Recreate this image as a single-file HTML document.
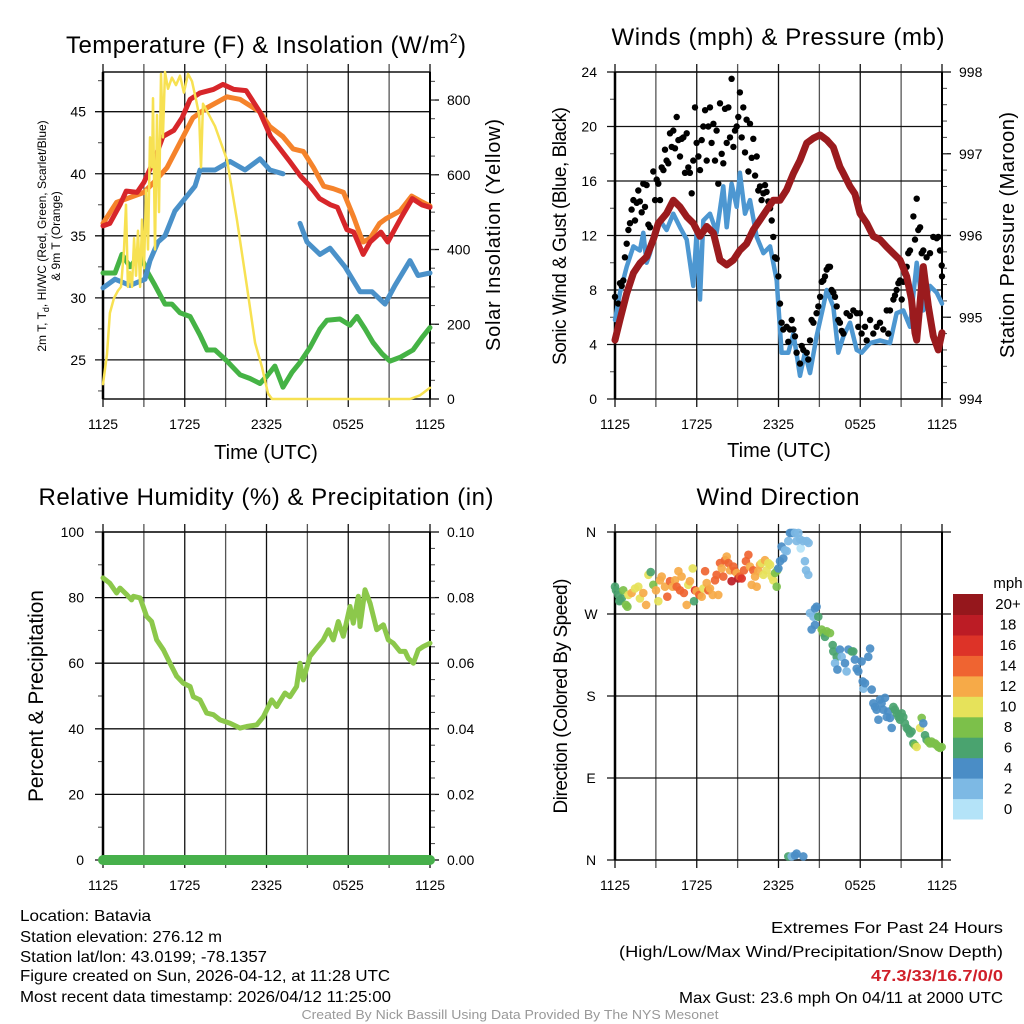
<!DOCTYPE html>
<html><head><meta charset="utf-8"><title>NYS Mesonet Batavia Meteogram</title>
<style>
html,body{margin:0;padding:0;background:#fff;}
svg{display:block;font-family:"Liberation Sans",Arial,sans-serif;}
</style></head>
<body>
<svg id="chart" xmlns="http://www.w3.org/2000/svg" width="1024" height="1024" viewBox="0 0 1024 1024">
<rect x="0" y="0" width="1024" height="1024" fill="#fff"/>
<text x="266" y="53" font-size="24" text-anchor="middle" textLength="400">Temperature (F) &amp; Insolation (W/m<tspan font-size="14" dy="-10">2</tspan><tspan dy="10">)</tspan></text>
<text x="778" y="45" font-size="24" text-anchor="middle" textLength="333">Winds (mph) &amp; Pressure (mb)</text>
<text x="266" y="505" font-size="24" text-anchor="middle" textLength="455">Relative Humidity (%) &amp; Precipitation (in)</text>
<text x="778" y="505" font-size="24" text-anchor="middle" textLength="163">Wind Direction</text>

<text x="266" y="459" font-size="20" text-anchor="middle">Time (UTC)</text>
<text x="779" y="457" font-size="20" text-anchor="middle">Time (UTC)</text>

<text transform="translate(46,236) rotate(-90)" font-size="12" text-anchor="middle">2m T, T<tspan font-size="9" dy="3">d</tspan><tspan dy="-3">, HI/WC (Red, Green, Scarlet/Blue)</tspan></text>
<text transform="translate(60,236) rotate(-90)" font-size="12" text-anchor="middle">&amp; 9m T (Orange)</text>
<text transform="translate(500,235) rotate(-90)" font-size="20" text-anchor="middle" textLength="232">Solar Insolation (Yellow)</text>
<text transform="translate(566,236) rotate(-90)" font-size="19" text-anchor="middle" textLength="258">Sonic Wind &amp; Gust (Blue, Black)</text>
<text transform="translate(1014,235) rotate(-90)" font-size="20" text-anchor="middle" textLength="246">Station Pressure (Maroon)</text>
<text transform="translate(43,696) rotate(-90)" font-size="21" text-anchor="middle" textLength="212">Percent &amp; Precipitation</text>
<text transform="translate(567,696) rotate(-90)" font-size="19" text-anchor="middle" textLength="235">Direction (Colored By Speed)</text>

<g font-size="16">
<text x="20" y="921" textLength="131" lengthAdjust="spacingAndGlyphs">Location: Batavia</text>
<text x="20" y="942" textLength="202" lengthAdjust="spacingAndGlyphs">Station elevation: 276.12 m</text>
<text x="20" y="962" textLength="247" lengthAdjust="spacingAndGlyphs">Station lat/lon: 43.0199; -78.1357</text>
<text x="20" y="981" textLength="370" lengthAdjust="spacingAndGlyphs">Figure created on Sun, 2026-04-12, at 11:28 UTC</text>
<text x="20" y="1002" textLength="371" lengthAdjust="spacingAndGlyphs">Most recent data timestamp: 2026/04/12 11:25:00</text>
</g>
<g font-size="16" text-anchor="end">
<text x="1003" y="933" textLength="232" lengthAdjust="spacingAndGlyphs">Extremes For Past 24 Hours</text>
<text x="1003" y="957" textLength="384" lengthAdjust="spacingAndGlyphs">(High/Low/Max Wind/Precipitation/Snow Depth)</text>
<text x="1003" y="981" textLength="132" lengthAdjust="spacingAndGlyphs" font-weight="bold" fill="#d0202a">47.3/33/16.7/0/0</text>
<text x="1003" y="1003" textLength="324" lengthAdjust="spacingAndGlyphs">Max Gust: 23.6 mph On 04/11 at 2000 UTC</text>
</g>
<text x="510" y="1019" font-size="13" fill="#999" text-anchor="middle" textLength="417" lengthAdjust="spacingAndGlyphs">Created By Nick Bassill Using Data Provided By The NYS Mesonet</text>
</svg>
<script>
// ---------- data (time in hours since 1125 UTC) ----------
const redT=[0,.5,1.25,1.7,2.5,3,3.5,3.9,4.4,5.2,5.8,6.4,7.1,8.1,8.8,9.6,10.5,11.5,12.3,13,13.7,14.5,15.2,15.9,16.7,17.2,17.9,18.4,19.1,19.6,20.4,20.9,21.4,21.9,22.7,23.4,24];
const redV=[35.8,36,37.5,38.6,38.5,39.3,40.5,41.5,43,43.5,44.5,46,46.5,46.8,47.2,46.8,46.7,45,43,42,41,39.8,39,38,37.5,37.3,35.5,35.3,33.5,34.5,35.3,34.5,35.5,36.5,38,37.5,37.3];
const orangeT=[0,1,3,3.9,4.7,5.65,6.6,7.6,9.1,10.05,11.5,12.25,13.2,13.95,14.7,15.45,16.2,16.9,17.65,18.4,18.9,19.1,19.6,20.3,20.8,21.8,22.65,23.3,24];
const orangeV=[36,37.7,38.5,39.5,40.5,42.5,44.5,45.3,46.2,46,45,43.8,43,42,41.8,40.5,39,38.8,38.5,36.5,35,34.5,34.8,36,36.4,37,38.2,37.8,37.4];
const blueT=[0,.88,1.98,3.08,3.45,4.04,4.55,5.28,6.02,6.75,7.12,8.22,9.32,10.42,11.52,12.26,13.21,13.8,14.46,14.97,15.93,16.66,17.76,18.86,19.74,20.7,21.43,22.53,23.12,24];
const blueV=[30.8,31.5,31,31.5,33,34.5,35,37,38,39,40.3,40.3,41,40.3,41.2,40.3,40,null,36,34.5,33.5,34,32.5,30.5,30.5,29.5,31,33,31.8,32];
const greenT=[0,.88,1.39,1.98,2.72,3.3,3.82,4.55,5.06,5.65,6.39,7.12,7.63,8.22,9.1,10.06,10.79,11.52,12.04,12.62,13.21,13.87,14.46,15.19,15.93,16.44,17.39,18.13,18.64,19.23,19.82,20.48,21.06,21.8,22.75,23.41,24];
const greenV=[32,32,33.5,32.5,33.5,32,31,29.5,29.5,28.8,28.5,27,25.8,25.8,24.9,23.8,23.5,23.1,23.7,24.5,22.8,24,24.8,26,27.5,28.2,28.3,27.8,28.5,27.5,26.4,25.5,24.9,25.2,25.8,26.8,27.6];
const solarT=[0,.29,.51,.81,1.1,1.32,1.54,1.69,1.83,1.98,2.13,2.28,2.42,2.57,2.72,2.86,3.01,3.16,3.3,3.45,3.6,3.67,3.82,3.96,4.11,4.26,4.4,4.55,4.77,5.06,5.36,5.65,5.94,6.24,6.53,6.83,7.05,7.19,7.34,7.63,8.22,9.1,9.83,10.57,11.16,11.67,12.11,12.4,22.53,23.27,24];
const solarV=[40,120,230,270,290,300,400,520,300,340,300,430,330,450,300,480,350,560,400,700,620,805,400,760,500,870,700,875,830,860,840,865,820,870,850,800,760,620,790,770,730,640,480,300,150,85,15,0,0,10,30];
const windT=[0,.37,.86,1.35,1.83,2.08,2.32,2.57,2.94,3.3,3.79,4.28,4.77,5.26,5.75,5.99,6.24,6.48,6.97,7.46,7.95,8.2,8.56,8.93,9.17,9.54,9.91,10.4,10.89,11.38,11.87,12.23,12.72,13.09,13.58,13.94,14.31,14.8,15.29,15.54,16.02,16.39,16.76,17.25,17.74,18.1,18.72,19.45,20.18,20.67,21.16,21.65,22.14,22.63,23.12,23.61,24];
const windV=[5.8,7.8,9.7,11.2,10.9,12.2,10,10.7,12.2,13.1,12.4,13.6,12.6,11.7,8.3,12.2,7.3,13.1,13.6,12.2,15.6,12.6,15.8,14.1,16.6,13.6,14.6,11.9,10.7,11.2,8.7,3.4,3.4,4.8,1.7,3.4,1.9,4.6,6.8,8,6.8,3.4,4.6,5.6,3.6,3.4,4.1,4.3,4.1,6.3,6.5,5.3,10,6.5,8.3,7.8,7];
const gustT=[0,.24,.37,.49,.61,.73,.86,.98,1.1,1.22,1.35,1.47,1.59,1.71,1.83,1.96,2.08,2.2,2.32,2.45,2.57,2.81,2.94,3.06,3.18,3.3,3.43,3.55,3.67,3.79,3.91,4.04,4.16,4.28,4.4,4.53,4.65,4.77,4.89,5.02,5.14,5.26,5.38,5.5,5.63,5.75,5.87,5.99,6.12,6.24,6.36,6.48,6.61,6.73,6.85,6.97,7.09,7.22,7.34,7.46,7.58,7.71,7.83,7.95,8.07,8.2,8.32,8.44,8.56,8.69,8.81,8.93,9.05,9.17,9.3,9.42,9.54,9.66,9.79,9.91,10.03,10.15,10.28,10.4,10.52,10.64,10.76,10.89,11.01,11.13,11.25,11.38,11.5,11.62,11.74,11.87,11.99,12.11,12.23,12.35,12.6,12.72,12.84,12.97,13.09,13.21,13.33,13.58,13.7,13.82,14.07,14.19,14.31,14.43,14.56,14.8,14.92,15.05,15.17,15.29,15.41,15.54,15.66,15.78,15.9,16.02,16.15,16.27,16.39,16.51,16.64,16.76,17.0,17.25,17.49,17.74,17.86,17.98,18.1,18.35,18.47,18.72,18.96,19.2,19.45,19.69,19.94,20.06,20.18,20.43,20.55,20.67,20.8,20.92,21.04,21.16,21.28,21.41,21.53,21.65,21.9,22.02,22.14,22.26,22.39,22.51,22.63,22.87,23.12,23.36,23.61,23.73,23.85,23.98,24];
const gustV=[7.5,7.0,8.5,8.3,8.7,10.4,11.4,12.4,12.9,13.9,14.6,13.1,14.4,15.3,14.5,13.7,15.8,14.1,15.7,12.8,12.6,16.7,14.6,16.1,15.8,14.6,17.0,16.8,18.3,17.5,17.3,19.5,18.5,19.7,18.4,20.7,19.0,17.8,19.1,19.2,16.6,19.5,17.0,16.6,15.1,17.5,21.4,18.8,17.8,16.8,19.0,20.0,21.2,17.5,20.0,21.4,18.8,20.2,17.5,19.7,15.8,21.7,18.0,17.3,21.3,18.8,21.4,19.2,23.5,18.5,19.7,20.0,20.7,22.5,19.2,21.4,18.1,20.5,16.7,20.2,17.7,19.1,16.4,17.8,15.3,15.6,14.6,15.1,15.7,15.2,14.5,14.0,13.1,11.9,10.4,10.3,9.0,7.0,5.6,5.1,5.3,4.2,5.1,5.8,5.1,4.6,3.4,2.6,3.9,3.6,3.4,2.9,4.3,5.8,5.6,6.3,6.8,7.5,8.6,8.7,9.0,9.5,9.7,9.7,8.0,7.8,7.5,6.8,5.8,5.6,5.0,4.8,6.3,6.1,6.5,6.3,5.3,6.3,4.8,5.3,4.3,5.8,4.8,5.3,5.6,5.1,6.5,4.8,6.5,7.3,7.6,8.0,8.5,8.7,7.3,8.6,9.2,9.7,10.7,10.9,13.4,11.7,14.7,12.4,12.6,10.7,10.9,10.4,10.7,11.9,11.8,11.9,10.9,9.8,9.0];
const presT=[0,.37,.86,1.35,1.83,2.32,2.81,3.18,3.79,4.28,4.77,5.26,5.75,6.24,6.73,7.22,7.71,8.2,8.69,9.17,9.66,10.15,10.64,11.13,11.62,12.11,12.6,13.09,13.58,14.07,14.56,15.05,15.54,16.02,16.51,16.76,17.25,17.61,17.98,18.47,18.96,19.45,19.94,20.43,20.92,21.41,21.77,22.02,22.14,22.63,23,23.36,23.73,24];
const presV=[994.72,994.97,995.29,995.54,995.66,995.74,995.95,996.15,996.27,996.43,996.35,996.23,996.15,995.99,996.11,996.03,995.70,995.64,995.70,995.82,995.90,996.07,996.19,996.31,996.43,996.43,996.56,996.76,996.92,997.13,997.19,997.23,997.17,997.08,996.84,996.76,996.60,996.51,996.27,996.15,995.99,995.95,995.86,995.78,995.70,995.50,995.21,994.81,994.72,995.62,995.13,994.77,994.60,994.81];
const rhT=[0,.5,1,1.25,1.74,2.1,2.23,2.72,3.2,3.57,3.94,4.43,4.92,5.41,5.9,6.39,6.63,7.12,7.61,8.1,8.59,9.32,10.06,10.54,11.28,11.77,12.38,12.75,13.36,13.72,14.21,14.46,14.7,15.19,15.68,16.17,16.54,16.9,17.27,17.64,18.13,18.37,18.74,18.86,19.23,19.6,20.09,20.58,20.94,21.31,21.8,22.17,22.41,22.78,23.14,23.51,24];
const rhV=[86,84.4,81.4,82.9,80.9,79.3,80.4,79.9,74.3,72.7,67.1,64.1,60,56,53.9,52.9,49.8,48.8,44.8,44.3,42.7,41.7,40.2,40.7,41.2,43.7,48.8,46.8,50.9,49.8,52.9,60,54.9,62.1,64.6,67.1,70.2,67.1,72.7,68.2,77.3,72.2,80.4,71.2,82.4,78.3,70.2,71.7,67.1,66.1,63.6,63.6,61.5,60,64.1,65.1,66.1];
const precipT=[0,24];
const precipV=[0,0];
const dirT=[0,.07,.24,.37,.49,.32,.61,.81,.98,.91,1.22,1.47,1.71,1.83,2.08,2.28,2.45,2.62,2.81,3.01,3.18,3.3,3.43,3.67,3.84,4.04,4.23,4.4,4.53,4.65,4.77,4.89,5.06,5.26,5.38,5.5,5.7,5.8,5.87,5.99,6.19,6.36,6.48,6.61,6.73,6.85,6.97,7.17,7.34,7.46,7.58,7.71,7.83,7.95,8.07,8.2,8.32,8.44,8.56,8.69,8.81,8.93,9.05,9.17,9.3,9.47,9.61,9.79,9.91,10.03,10.15,10.28,10.4,10.52,10.64,10.76,10.89,11.01,11.13,11.25,11.38,11.5,11.62,11.74,11.87,11.91,11.99,12.11,12.23,12.35,12.48,12.6,12.72,12.84,12.97,13.09,13.21,13.33,13.46,13.58,13.63,13.82,14.07,14.21,13.94,14.02,14.19,14.31,14.43,14.56,14.68,14.8,14.92,14.68,15.17,15.29,15.41,15.54,15.78,15.98,16.02,16.27,16.15,16.32,16.51,16.64,16.88,17,17.13,17.37,17.49,17.61,17.74,17.86,18.1,18.18,18.23,18.35,18.59,18.72,18.84,18.96,19.08,19.2,19.33,19.45,19.57,19.69,19.82,19.94,20.06,20.18,20.31,20.43,20.55,20.67,20.8,20.92,21.04,21.16,21.28,21.41,21.53,21.65,21.77,21.9,22.02,22.14,22.39,22.51,22.63,22.75,22.87,23,23.12,23.24,23.36,23.49,23.61,23.73,23.85,23.98,12.72,12.97,13.21,13.33,13.82];
const dirDeg=[300,296,291,285,287,284,296,280,291,278,293,298,300,287,293,280,313,316,302,296,284,307,311,300,289,306,300,307,300,317,296,311,293,280,302,306,320,284,296,295,291,289,298,317,304,296,298,291,307,313,291,326,320,311,329,333,326,318,306,322,317,315,309,311,309,318,328,335,322,302,318,311,300,317,324,326,313,329,318,326,324,311,307,315,300,318,320,328,344,331,340,339,350,359,359,359,359,350,359,352,342,350,350,348,328,318,313,271,253,267,276,278,267,258,253,249,245,251,249,236,229,223,216,209,231,223,216,207,231,229,229,220,210,207,218,196,188,194,223,232,187,172,168,165,154,176,172,165,178,157,163,156,145,168,165,161,157,154,161,157,150,145,143,139,141,128,126,124,145,156,150,137,132,130,128,130,128,128,126,124,123,124,4,4,5,7,4];
const dirSpeed=[6,6,6,6,6,6,8,8,10,8,12,10,10,10,12,12,10,6,8,12,10,12,12,12,14,14,12,12,14,12,14,12,14,12,10,12,10,6,16,12,14,12,10,14,12,14,12,12,14,14,12,14,12,14,14,12,14,12,18,14,14,12,18,14,16,14,14,14,12,12,14,12,12,12,12,10,10,12,10,10,10,10,10,8,8,8,4,4,4,4,2,2,2,4,4,4,2,2,2,2,0,2,2,2,2,2,2,2,4,2,4,4,6,4,8,8,6,8,8,6,6,6,2,4,4,2,4,2,4,6,6,4,4,4,4,4,2,4,4,4,4,4,4,4,4,4,4,4,4,4,4,4,4,6,6,6,6,6,6,6,6,6,6,6,6,6,8,10,10,8,4,6,6,8,8,8,8,8,8,8,8,8,6,2,4,4,4,2];
const hourTicks=[0,3,6,9,12,15,18,21,24];
const hourLabels=["1125","","1725","","2325","","0525","","1125"];
const speedBinLabels=["0","2","4","6","8","10","12","14","16","18","20+"];
const speedBinColors=["#b4e3f8","#7db9e4","#4a8dc6","#4aa36f","#7cc04a","#e6e25a","#f6aa48","#ef6431","#dd3328","#bc1c25","#95171c"];

// ---------- helpers ----------
const NS='http://www.w3.org/2000/svg';
const svg=document.getElementById('chart');
function mk(tag,attrs,name,parent){
  const el=document.createElementNS(NS,tag);
  for(const k in attrs) el.setAttribute(k,attrs[k]);
  
  
  (parent||svg).appendChild(el);
  return el;
}
function txt(x,y,s,size,anchor,name,parent){
  const t=mk('text',{x:x,y:y,'font-size':size,'text-anchor':anchor},name,parent);
  t.textContent=s; return t;
}
function scale(d0,d1,r0,r1){return v=>r0+(v-d0)/(d1-d0)*(r1-r0);}

function panel(o){
  const g=mk('g',{},o.name+'-axes');
  const sx=scale(0,24,o.x0,o.x1);
  const sy=scale(o.lmin,o.lmax,o.yb,o.yt);
  hourTicks.forEach((h,i)=>{
    const x=sx(h);
    mk('line',{x1:x,x2:x,y1:o.yt-8,y2:o.yb+8,stroke:(i%2?'#555':'#111'),'stroke-width':1.3},o.name+'-x-gridline',g);
    if(hourLabels[i]) txt(x,o.yb+30,hourLabels[i],14,'middle',o.name+'-x-tick-label',g);
  });
  o.lticks.forEach((v,i)=>{
    const y=sy(v);
    mk('line',{x1:o.x0-8,x2:o.x1+(o.gridRight||0),y1:y,y2:y,stroke:'#111','stroke-width':1.3},o.name+'-y-gridline',g);
    txt(o.lLabelX,y+5,o.llabels[i],14,o.lAnchor||'end',o.name+'-left-tick-label',g);
  });
  (o.lminor||[]).forEach(v=>{const y=sy(v);
    mk('line',{x1:o.x0-5,x2:o.x0,y1:y,y2:y,stroke:'#444','stroke-width':1},o.name+'-left-minor-tick',g);});
  if(o.r){
    const ry=scale(o.r.min,o.r.max,o.yb,o.yt);
    o.r.ticks.forEach((v,i)=>{const y=ry(v);
      mk('line',{x1:o.x1,x2:o.x1+9,y1:y,y2:y,stroke:'#111','stroke-width':1.3},o.name+'-right-tick',g);
      txt(o.x1+17,y+5,o.r.labels[i],14,'start',o.name+'-right-tick-label',g);});
    o.r.minor.forEach(v=>{const y=ry(v);
      mk('line',{x1:o.x1,x2:o.x1+5,y1:y,y2:y,stroke:'#444','stroke-width':1},o.name+'-right-minor-tick',g);});
  }
  mk('rect',{x:o.x0,y:o.yt,width:o.x1-o.x0,height:o.yb-o.yt,fill:'none',stroke:'#111','stroke-width':1.5},o.name+'-frame',g);
  mk('line',{x1:o.x0,x2:o.x0,y1:o.yt,y2:o.yb,stroke:'#000','stroke-width':2.5},o.name+'-left-axis',g);
  mk('line',{x1:o.x1,x2:o.x1,y1:o.yt,y2:o.yb,stroke:'#000','stroke-width':2},o.name+'-right-axis',g);
  return {sx,sy};
}
function line(T,V,sx,sy,color,w,name){
  let d='',pen=false;
  T.forEach((t,i)=>{ if(V[i]===null){pen=false;return;}
    d+=(pen?'L':'M')+sx(t).toFixed(1)+','+sy(V[i]).toFixed(1); pen=true;});
  return mk('path',{d:d,fill:'none',stroke:color,'stroke-width':w,'stroke-linejoin':'round','stroke-linecap':'round'},name);
}
function range(a,b,s){const r=[];for(let v=a;v<=b+1e-9;v+=s)r.push(+v.toFixed(4));return r;}

// ---------- temperature panel ----------
const P1=panel({name:'temperature',x0:103,x1:430,yt:72,yb:399,lmin:21.85,lmax:48.2,
  lticks:[25,30,35,40,45],llabels:['25','30','35','40','45'],lminor:[22.5,27.5,32.5,37.5,42.5,47.5],lLabelX:86,
  r:{min:0,max:875,ticks:[0,200,400,600,800],labels:['0','200','400','600','800'],minor:range(50,850,50)}});
const sRad=scale(0,875,399,72);
line(greenT,greenV,P1.sx,P1.sy,'#45b345',5,'heat-index-windchill-line');
line(blueT,blueV,P1.sx,P1.sy,'#4a91c9',5,'dewpoint-line');
line(orangeT,orangeV,P1.sx,P1.sy,'#f5832b',5,'temperature-9m-line');
line(redT,redV,P1.sx,P1.sy,'#d7262a',5,'temperature-2m-line');
line(solarT,solarV,P1.sx,sRad,'#f7e152',2.5,'solar-insolation-line');

// ---------- winds panel ----------
const P2=panel({name:'winds',x0:615,x1:942,yt:72,yb:399,lmin:0,lmax:24,
  lticks:[0,4,8,12,16,20,24],llabels:['0','4','8','12','16','20','24'],lminor:[2,6,10,14,18,22],lLabelX:597,
  r:{min:994,max:998,ticks:[994,995,996,997,998],labels:['994','995','996','997','998'],minor:range(994.2,997.8,0.2)}});
const sPres=scale(994,998,399,72);
line(windT,windV,P2.sx,P2.sy,'#4d97d1',4.5,'sonic-wind-line');
const gustG=mk('g',{},'wind-gust-points');
gustT.forEach((t,i)=>{
  mk('circle',{cx:P2.sx(t).toFixed(1),cy:P2.sy(gustV[i]).toFixed(1),r:3.2,fill:'#000'},'gust-point',gustG);
});
line(presT,presV,P2.sx,sPres,'#9b1b1e',7,'station-pressure-line');

// ---------- humidity panel ----------
const P3=panel({name:'humidity',x0:103,x1:430,yt:532,yb:860,lmin:0,lmax:100,
  lticks:[0,20,40,60,80,100],llabels:['0','20','40','60','80','100'],lminor:[10,30,50,70,90],lLabelX:84,
  r:{min:0,max:0.1,ticks:[0,.02,.04,.06,.08,.1],labels:['0.00','0.02','0.04','0.06','0.08','0.10'],minor:range(0.005,0.095,0.005)}});
const sPrecip=scale(0,0.1,860,532);
line(rhT,rhV,P3.sx,P3.sy,'#8cc84b',5,'relative-humidity-line');
line(precipT,precipV,P3.sx,sPrecip,'#47b04b',10,'precipitation-line');

// ---------- wind direction panel ----------
const P4=panel({name:'direction',x0:615,x1:942,yt:532,yb:860,lmin:0,lmax:360,gridRight:9,
  lticks:[0,90,180,270,360],llabels:['N','E','S','W','N'],lLabelX:591,lAnchor:'middle'});
const dirG=mk('g',{},'wind-direction-points');
dirT.forEach((t,i)=>{
  const idx=Math.min(10,Math.floor(dirSpeed[i]/2));
  mk('circle',{cx:P4.sx(t).toFixed(1),cy:P4.sy(dirDeg[i]).toFixed(1),r:4.3,fill:speedBinColors[idx],'fill-opacity':0.92},'direction-point',dirG);
});
const cb=mk('g',{},'speed-colorbar');
const cbTop=594,cbBot=819,cbH=(cbBot-cbTop)/speedBinLabels.length;
txt(1008,588,'mph',15,'middle','colorbar-title',cb);
speedBinLabels.forEach((lab,i)=>{
  const y=cbBot-(i+1)*cbH;
  mk('rect',{x:953,y:y.toFixed(1),width:30,height:(cbH+0.5).toFixed(1),fill:speedBinColors[i]},'colorbar-box',cb);
  txt(1008,y+cbH/2+5,lab,15,'middle','colorbar-label',cb);
});
</script>
</body></html>
